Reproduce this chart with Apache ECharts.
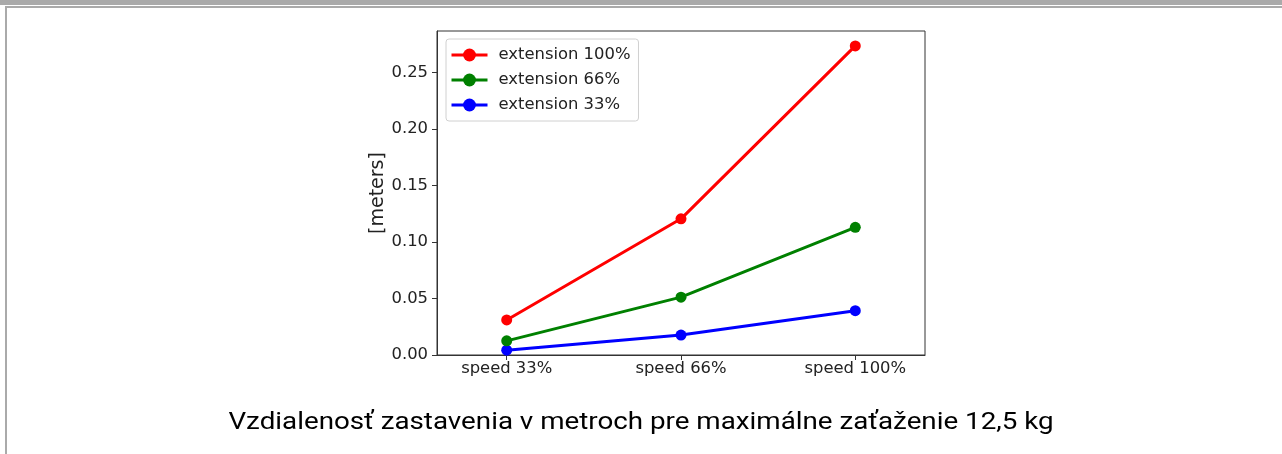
<!DOCTYPE html>
<html>
<head>
<meta charset="utf-8">
<script src="https://cdn.jsdelivr.net/npm/echarts@6/dist/echarts.min.js"></script>
<style>
  html, body { margin: 0; padding: 0; background: #fff; }
  #wrap { position: relative; width: 1282px; height: 454px; overflow: hidden; }
  #band { position: absolute; left: 0; top: 0; width: 1282px; height: 5px; background: #aaaaaa; }
  #frame { position: absolute; left: 5px; top: 6px; width: 1290px; height: 460px;
           border-left: 2px solid #aaaaaa; border-top: 2px solid #aaaaaa; }
  #chart { position: absolute; left: 0; top: 0; width: 1282px; height: 454px; }
</style>
</head>
<body>
<div id="wrap">
  <div id="band"></div>
  <div id="frame"></div>
  <div id="chart"></div>
</div>
<script>
const categories = ['speed 33%', 'speed 66%', 'speed 100%'];
const seriesNames = ['extension 100%', 'extension 66%', 'extension 33%'];
const ext100 = [0.031, 0.1205, 0.2735];
const ext66 = [0.0125, 0.0512, 0.113];
const ext33 = [0.0043, 0.0176, 0.0392];
const yTicks = [0, 0.05, 0.10, 0.15, 0.20, 0.25];
const yAxisName = '[meters]';
const caption = 'Vzdialenosť zastavenia v metroch pre maximálne zaťaženie 12,5 kg';

const colors = ['#ff0000', '#008000', '#0000ff'];
const allData = [ext100, ext66, ext33];

const chart = echarts.init(document.getElementById('chart'), null, { renderer: 'canvas' });
const font = 'DejaVu Sans';
const fs = 16.4;

chart.setOption({
  animation: false,
  backgroundColor: 'transparent',
  graphic: [{
    type: 'text',
    x: 641, y: 423,
    scaleX: 1.207, scaleY: 1,
    style: {
      text: caption,
      font: 'normal 23px Roboto',
      fill: '#000',
      align: 'center',
      verticalAlign: 'middle'
    }
  }],
  grid: {
    left: 437, top: 31, width: 488, height: 324,
    show: true, borderColor: '#333', borderWidth: 1, backgroundColor: 'transparent'
  },
  legend: {
    orient: 'vertical',
    left: 446, top: 39,
    padding: [8, 8, 8, 4],
    itemGap: 9,
    itemWidth: 36, itemHeight: 16,
    borderColor: '#d0d0d0', borderWidth: 1, borderRadius: 3,
    backgroundColor: 'rgba(255,255,255,0.8)',
    lineStyle: { width: 3 },
    textStyle: { fontFamily: font, fontSize: fs, color: '#222', padding: [0, 0, 0, 6] },
    data: seriesNames
  },
  xAxis: {
    type: 'value',
    min: -0.4, max: 2.4,
    splitLine: { show: false },
    axisLine: { show: true, onZero: false, lineStyle: { color: '#333', width: 1 } },
    axisTick: { show: true, inside: false, length: 5, lineStyle: { color: '#333' }, customValues: [0, 1, 2] },
    axisLabel: {
      customValues: [0, 1, 2],
      formatter: v => categories[Math.round(v)],
      fontFamily: font, fontSize: fs, color: '#222', margin: 6
    }
  },
  yAxis: {
    type: 'value',
    min: 0, max: 0.2867,
    name: yAxisName,
    nameLocation: 'middle',
    nameRotate: 90,
    nameGap: 46,
    nameTextStyle: { fontFamily: font, fontSize: 19, color: '#222' },
    splitLine: { show: false },
    axisLine: { show: true, onZero: false, lineStyle: { color: '#333', width: 1 } },
    axisTick: { show: true, inside: false, length: 5, lineStyle: { color: '#333' }, customValues: yTicks },
    axisLabel: {
      customValues: yTicks,
      formatter: v => v.toFixed(2),
      fontFamily: font, fontSize: fs, color: '#222', margin: 9
    }
  },
  series: seriesNames.map((name, i) => ({
    name,
    type: 'line',
    data: allData[i].map((v, j) => [j, v]),
    symbol: 'circle',
    symbolSize: 11,
    showSymbol: true,
    lineStyle: { color: colors[i], width: 3 },
    itemStyle: { color: colors[i] },
    z: 10 - i
  }))
});
</script>
</body>
</html>
